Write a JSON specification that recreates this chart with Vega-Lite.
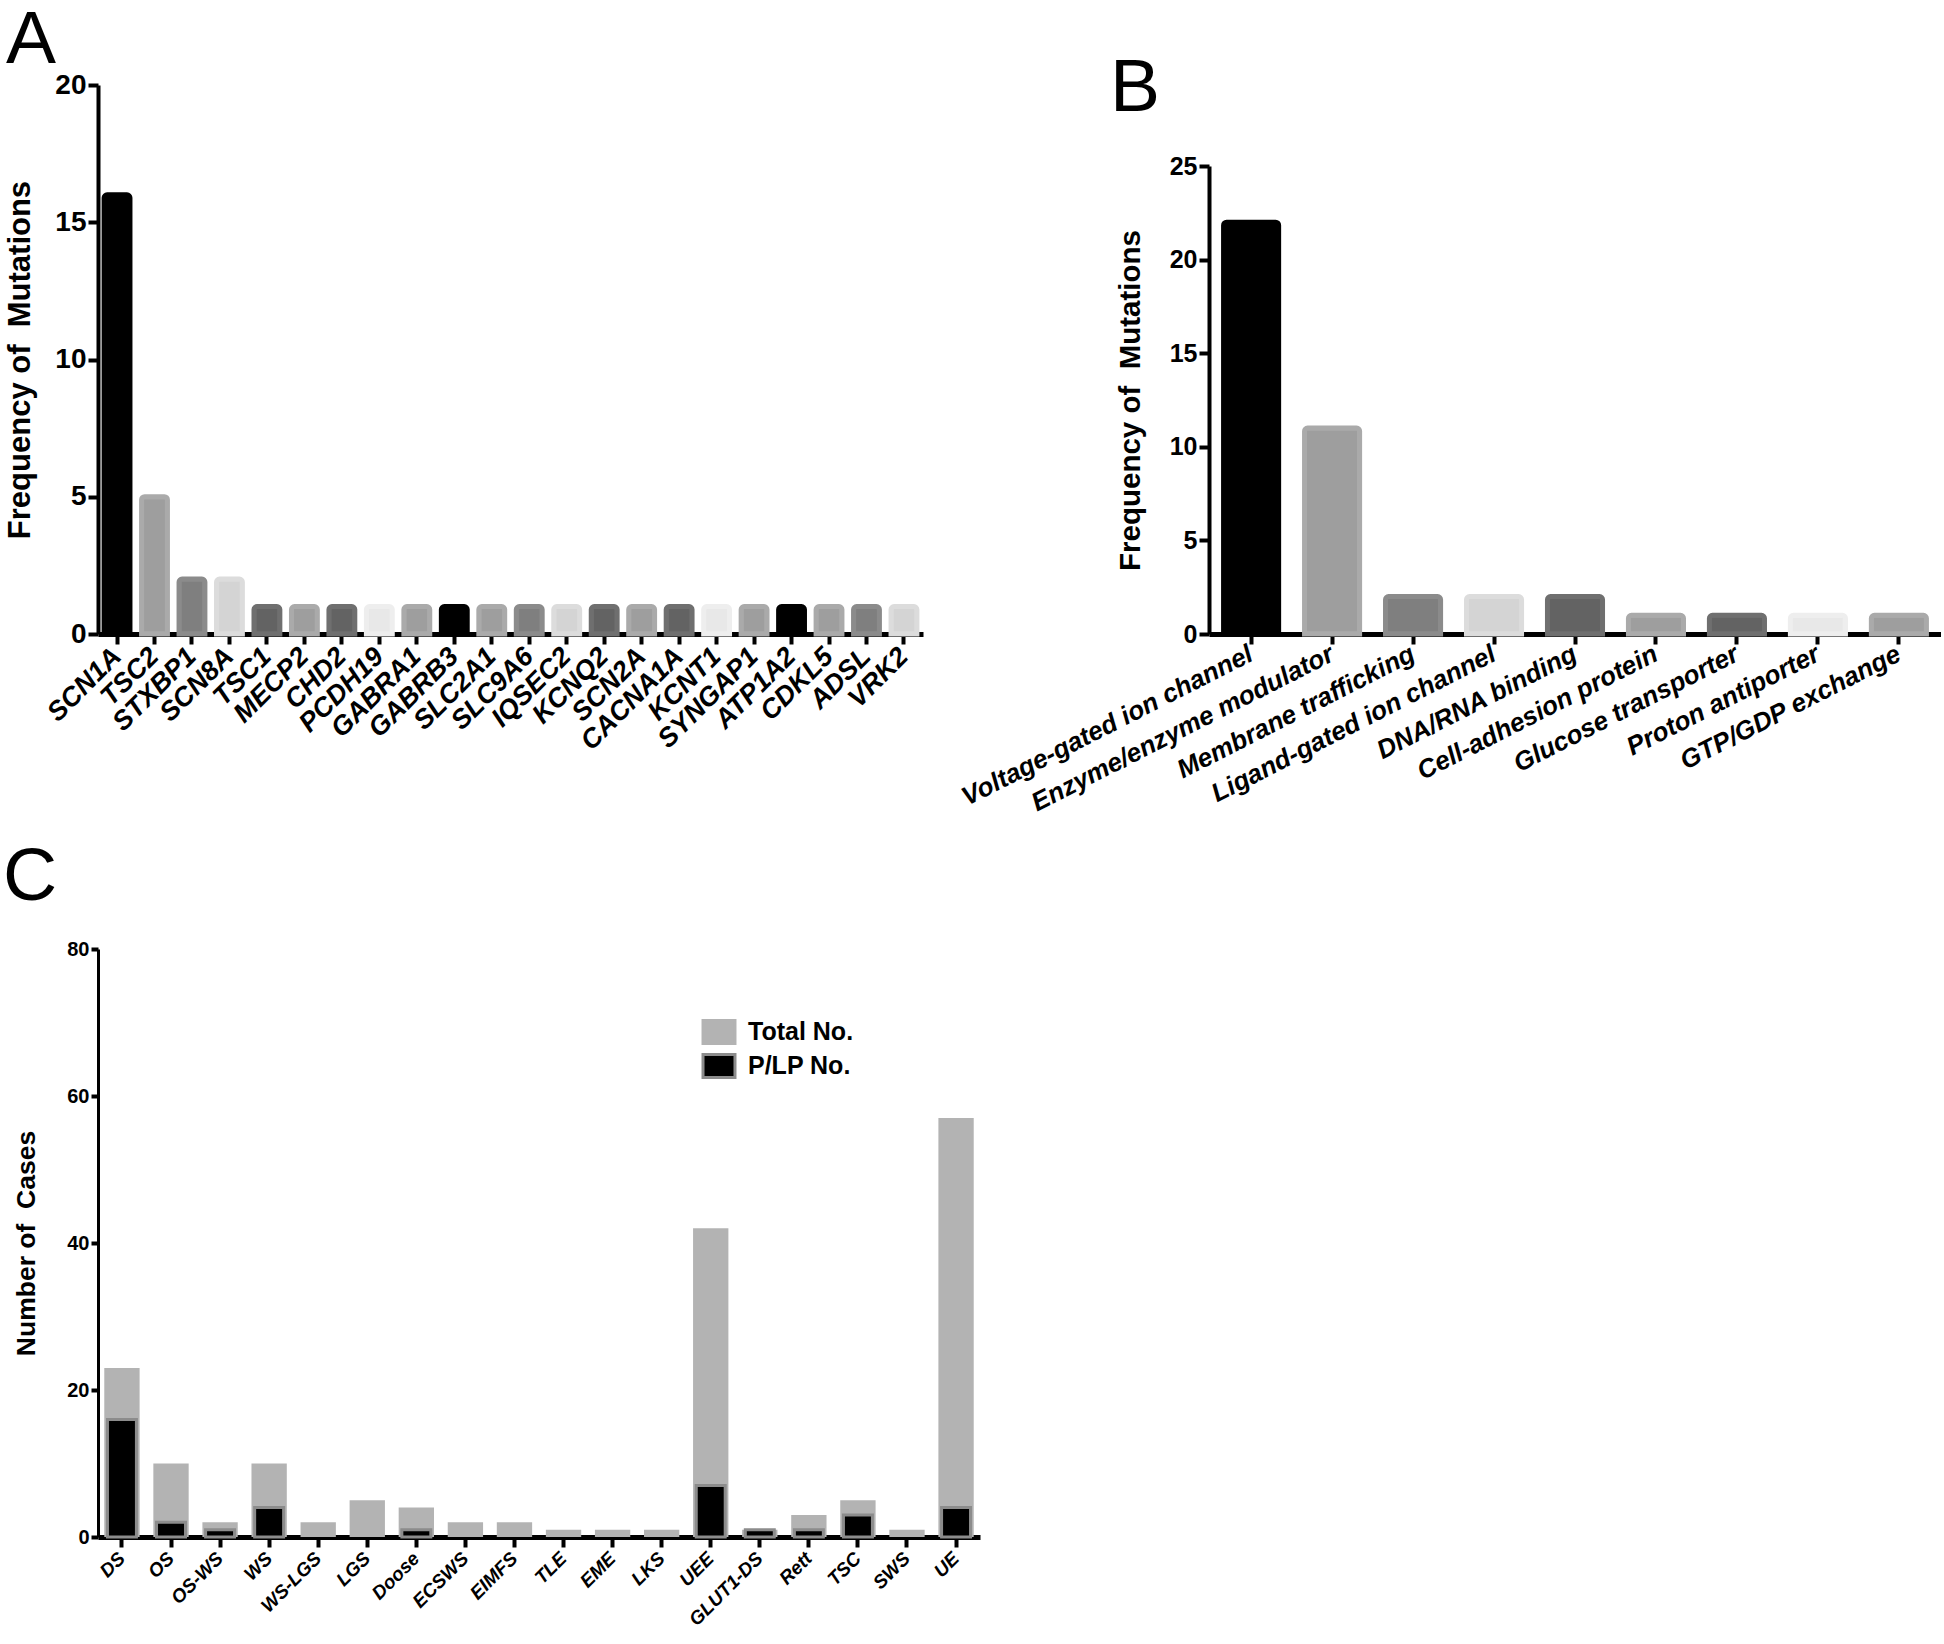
{
  "$schema": "https://vega.github.io/schema/vega-lite/v6.json",
  "background": "white",
  "padding": {"left": 3, "top": 3, "right": 0, "bottom": 0},
  "bounds": "flush",
  "align": "each",
  "columns": 2,
  "spacing": {"row": 315, "column": 229},
  "config": {
    "view": {"stroke": null},
    "axis": {"domainColor": "#000", "tickColor": "#000", "labelColor": "#000", "titleColor": "#000", "grid": false, "domainWidth": 4, "tickWidth": 4, "tickSize": 10},
    "title": {"color": "#000"}
  },
  "resolve": {"scale": {"color": "independent", "fill": "independent", "stroke": "independent"}, "legend": {"color": "independent", "fill": "independent", "stroke": "independent"}},
  "concat": [
    {
      "width": 825,
      "height": 549,
      "title": {"text": "A", "anchor": "start", "frame": "group", "dx": -92, "fontSize": 75, "font": "Liberation Sans", "fontWeight": "normal", "offset": -8},
      "data": {"values": [
        {"gene": "SCN1A", "count": 16}, {"gene": "TSC2", "count": 5}, {"gene": "STXBP1", "count": 2}, {"gene": "SCN8A", "count": 2},
        {"gene": "TSC1", "count": 1}, {"gene": "MECP2", "count": 1}, {"gene": "CHD2", "count": 1}, {"gene": "PCDH19", "count": 1},
        {"gene": "GABRA1", "count": 1}, {"gene": "GABRB3", "count": 1}, {"gene": "SLC2A1", "count": 1}, {"gene": "SLC9A6", "count": 1},
        {"gene": "IQSEC2", "count": 1}, {"gene": "KCNQ2", "count": 1}, {"gene": "SCN2A", "count": 1}, {"gene": "CACNA1A", "count": 1},
        {"gene": "KCNT1", "count": 1}, {"gene": "SYNGAP1", "count": 1}, {"gene": "ATP1A2", "count": 1}, {"gene": "CDKL5", "count": 1},
        {"gene": "ADSL", "count": 1}, {"gene": "VRK2", "count": 1}
      ]},
      "mark": {"type": "bar", "strokeWidth": 5, "cornerRadiusTopLeft": 3, "cornerRadiusTopRight": 3},
      "encoding": {
        "x": {"field": "gene", "type": "nominal", "sort": null,
          "scale": {"paddingInner": 0.31, "paddingOuter": 0.163},
          "axis": {"title": null, "labelAngle": -45, "labelAlign": "right", "labelBaseline": "middle", "labelFont": "Liberation Sans", "labelFontStyle": "italic", "labelFontWeight": "bold", "labelFontSize": 27, "labelPadding": 8, "labelLimit": 0, "bandPosition": 0.5, "domainWidth": 5}},
        "y": {"field": "count", "type": "quantitative",
          "scale": {"domain": [0, 20], "nice": false},
          "axis": {"values": [0, 5, 10, 15, 20], "title": "Frequency of\u00a0 Mutations", "titleFont": "Liberation Sans", "titleFontWeight": "bold", "titleFontSize": 31, "titlePadding": 18,
            "labelFont": "Liberation Sans", "labelFontWeight": "bold", "labelFontSize": 28, "labelPadding": 2}},
        "fill": {"field": "gene", "type": "nominal", "legend": null,
          "scale": {"domain": ["SCN1A","TSC2","STXBP1","SCN8A","TSC1","MECP2","CHD2","PCDH19","GABRA1","GABRB3","SLC2A1","SLC9A6","IQSEC2","KCNQ2","SCN2A","CACNA1A","KCNT1","SYNGAP1","ATP1A2","CDKL5","ADSL","VRK2"],
            "range": ["#000000","#9e9e9e","#7f7f7f","#d4d4d4","#636363","#9e9e9e","#636363","#e8e8e8","#9e9e9e","#000000","#9e9e9e","#7f7f7f","#d4d4d4","#636363","#9e9e9e","#636363","#e8e8e8","#9e9e9e","#000000","#9e9e9e","#7f7f7f","#d4d4d4"]}},
        "stroke": {"field": "gene", "type": "nominal", "legend": null,
          "scale": {"domain": ["SCN1A","TSC2","STXBP1","SCN8A","TSC1","MECP2","CHD2","PCDH19","GABRA1","GABRB3","SLC2A1","SLC9A6","IQSEC2","KCNQ2","SCN2A","CACNA1A","KCNT1","SYNGAP1","ATP1A2","CDKL5","ADSL","VRK2"],
            "range": ["#000000","#aaaaaa","#8b8b8b","#dcdcdc","#6f6f6f","#aaaaaa","#6f6f6f","#eeeeee","#aaaaaa","#000000","#aaaaaa","#8b8b8b","#dcdcdc","#6f6f6f","#aaaaaa","#6f6f6f","#eeeeee","#aaaaaa","#000000","#aaaaaa","#8b8b8b","#dcdcdc"]}}
      }
    },
    {
      "width": 732,
      "height": 549,
      "title": {"text": "B", "anchor": "start", "frame": "group", "dx": -99, "fontSize": 75, "font": "Liberation Sans", "fontWeight": "normal", "offset": 18, "dy": 60},
      "data": {"values": [
        {"category": "Voltage-gated ion channel", "count": 22},
        {"category": "Enzyme/enzyme modulator", "count": 11},
        {"category": "Membrane trafficking", "count": 2},
        {"category": "Ligand-gated ion channel", "count": 2},
        {"category": "DNA/RNA binding", "count": 2},
        {"category": "Cell-adhesion protein", "count": 1},
        {"category": "Glucose transporter", "count": 1},
        {"category": "Proton antiporter", "count": 1},
        {"category": "GTP/GDP exchange", "count": 1}
      ]},
      "mark": {"type": "bar", "strokeWidth": 5, "cornerRadiusTopLeft": 3, "cornerRadiusTopRight": 3},
      "encoding": {
        "x": {"field": "category", "type": "nominal", "sort": null,
          "scale": {"paddingInner": 0.32, "paddingOuter": 0.18},
          "axis": {"title": null, "labelAngle": -27, "labelAlign": "right", "labelBaseline": "middle", "labelFont": "Liberation Sans", "labelFontStyle": "italic", "labelFontWeight": "bold", "labelFontSize": 26, "labelPadding": 8, "labelLimit": 0, "bandPosition": 0.5, "domainWidth": 5}},
        "y": {"field": "count", "type": "quantitative",
          "scale": {"domain": [0, 25], "nice": false, "range": [549, 81]},
          "axis": {"values": [0, 5, 10, 15, 20, 25], "title": "Frequency of\u00a0 Mutations", "titleFont": "Liberation Sans", "titleFontWeight": "bold", "titleFontSize": 29.5, "titlePadding": 24,
            "labelFont": "Liberation Sans", "labelFontWeight": "bold", "labelFontSize": 25, "labelPadding": 2}},
        "fill": {"field": "category", "type": "nominal", "legend": null,
          "scale": {"domain": ["Voltage-gated ion channel","Enzyme/enzyme modulator","Membrane trafficking","Ligand-gated ion channel","DNA/RNA binding","Cell-adhesion protein","Glucose transporter","Proton antiporter","GTP/GDP exchange"],
            "range": ["#000000","#9e9e9e","#7f7f7f","#d4d4d4","#636363","#9e9e9e","#636363","#e8e8e8","#9e9e9e"]}},
        "stroke": {"field": "category", "type": "nominal", "legend": null,
          "scale": {"domain": ["Voltage-gated ion channel","Enzyme/enzyme modulator","Membrane trafficking","Ligand-gated ion channel","DNA/RNA binding","Cell-adhesion protein","Glucose transporter","Proton antiporter","GTP/GDP exchange"],
            "range": ["#000000","#aaaaaa","#8b8b8b","#dcdcdc","#6f6f6f","#aaaaaa","#6f6f6f","#eeeeee","#aaaaaa"]}}
      }
    },
    {
      "width": 882,
      "height": 588,
      "title": {"text": "C", "anchor": "start", "frame": "group", "dx": -95, "fontSize": 75, "font": "Liberation Sans", "fontWeight": "normal", "offset": 23},
      "data": {"values": [
        {"syndrome": "DS", "total": 23, "plp": 16},
        {"syndrome": "OS", "total": 10, "plp": 2},
        {"syndrome": "OS-WS", "total": 2, "plp": 1},
        {"syndrome": "WS", "total": 10, "plp": 4},
        {"syndrome": "WS-LGS", "total": 2, "plp": 0},
        {"syndrome": "LGS", "total": 5, "plp": 0},
        {"syndrome": "Doose", "total": 4, "plp": 1},
        {"syndrome": "ECSWS", "total": 2, "plp": 0},
        {"syndrome": "EIMFS", "total": 2, "plp": 0},
        {"syndrome": "TLE", "total": 1, "plp": 0},
        {"syndrome": "EME", "total": 1, "plp": 0},
        {"syndrome": "LKS", "total": 1, "plp": 0},
        {"syndrome": "UEE", "total": 42, "plp": 7},
        {"syndrome": "GLUT1-DS", "total": 1, "plp": 1},
        {"syndrome": "Rett", "total": 3, "plp": 1},
        {"syndrome": "TSC", "total": 5, "plp": 3},
        {"syndrome": "SWS", "total": 1, "plp": 0},
        {"syndrome": "UE", "total": 57, "plp": 4}
      ]},
      "encoding": {
        "x": {"field": "syndrome", "type": "nominal", "sort": null,
          "scale": {"paddingInner": 0.28, "paddingOuter": 0.128},
          "axis": {"title": null, "labelAngle": -45, "labelAlign": "right", "labelBaseline": "middle", "labelFont": "Liberation Sans", "labelFontStyle": "italic", "labelFontWeight": "bold", "labelFontSize": 19, "labelPadding": 8, "labelLimit": 0, "bandPosition": 0.5, "domainWidth": 5}}
      },
      "layer": [
        {
          "mark": {"type": "bar"},
          "encoding": {
            "y": {"field": "total", "type": "quantitative",
              "scale": {"domain": [0, 80], "nice": false},
              "axis": {"values": [0, 20, 40, 60, 80], "title": "Number of\u00a0 Cases", "titleFont": "Liberation Sans", "titleFontWeight": "bold", "titleFontSize": 26.5, "titlePadding": 26,
                "labelFont": "Liberation Sans", "labelFontWeight": "bold", "labelFontSize": 20, "labelPadding": 2, "domainWidth": 3, "tickSize": 7}},
            "color": {"datum": "Total No.", "type": "nominal",
              "scale": {"domain": ["Total No.", "P/LP No."], "range": ["#b3b3b3", "#000000"]},
              "legend": {"title": null, "orient": "none", "legendX": 608, "legendY": 70, "padding": 0,
                "symbolType": "M-1.39,-1H1.39V1H-1.39Z", "symbolSize": 529, "symbolStrokeWidth": 3, "symbolOpacity": 1,
                "labelFont": "Liberation Sans", "labelFontWeight": "bold", "labelFontSize": 25, "labelColor": "#000", "labelOffset": 16, "rowPadding": -2,
                "encode": {"symbols": {"update": {"stroke": {"signal": "datum.value === 'P/LP No.' ? '#8c8c8c' : '#b3b3b3'"}}}}}}
          }
        },
        {
          "transform": [{"filter": "datum.plp > 0"}],
          "mark": {"type": "bar", "width": {"band": 0.82}, "stroke": "#8c8c8c", "strokeWidth": 3},
          "encoding": {
            "y": {"field": "plp", "type": "quantitative"},
            "color": {"datum": "P/LP No.", "type": "nominal"}
          }
        }
      ]
    }
  ]
}
